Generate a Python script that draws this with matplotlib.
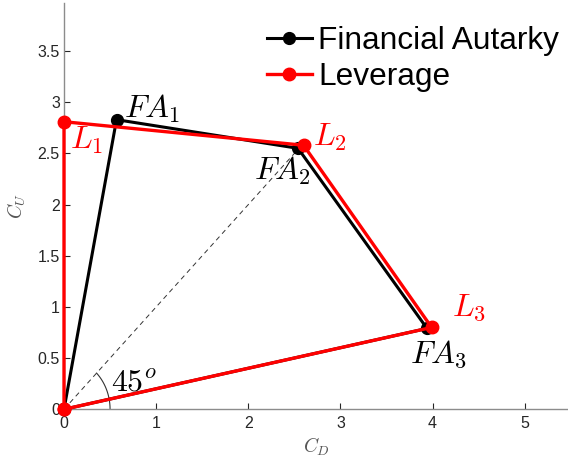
import numpy as np
import matplotlib
matplotlib.use("Agg")
import matplotlib.pyplot as plt

plt.rcParams['mathtext.fontset'] = 'cm'
plt.rcParams['font.family'] = ['Liberation Sans', 'DejaVu Sans']

# Vertices of the two consumption regions (C_D, C_U)
fa_x = [0.0, 0.57, 2.54, 3.94, 0.0]
fa_y = [0.0, 2.83, 2.55, 0.79, 0.0]
lev_x = [0.0, 0.0, 2.60, 3.99, 0.0]
lev_y = [0.0, 2.81, 2.58, 0.80, 0.0]

fa_labels = [r'$FA_1$', r'$FA_2$', r'$FA_3$']
fa_label_pos = [(0.65, 2.85), (2.06, 2.24), (3.75, 0.46)]
lev_labels = [r'$L_1$', r'$L_2$', r'$L_3$']
lev_label_pos = [(0.07, 2.55), (2.70, 2.58), (4.21, 0.92)]

xticks = [0, 1, 2, 3, 4, 5]
yticks = [0, 0.5, 1, 1.5, 2, 2.5, 3, 3.5]

fig = plt.figure(figsize=(5.68, 4.57), dpi=100)
ax = fig.add_axes([64 / 568, 1 - 409.3 / 457, 1 - 64 / 568, (409.3 - 3) / 457])

# 45-degree reference line and angle arc
ax.plot([0, lev_x[2]], [0, lev_x[2]], color='#333333', ls=(0, (5, 4)), lw=0.7, zorder=1)
theta = np.linspace(0, np.pi / 4, 50)
ax.plot(0.5 * np.cos(theta), 0.5 * np.sin(theta), color='#333333', lw=0.8, zorder=1)
ax.text(0.51, 0.18, r'$45^o$', fontsize=23, color='black')

ax.plot(fa_x, fa_y, color='black', lw=2.2, marker='o', ms=8.5,
        label='Financial Autarky', zorder=3, clip_on=False)
ax.plot(lev_x, lev_y, color='red', lw=2.4, marker='o', ms=9,
        label='Leverage', zorder=4, clip_on=False)

for t, (x, y) in zip(fa_labels, fa_label_pos):
    ax.text(x, y, t, fontsize=23, color='black', zorder=5)
for t, (x, y) in zip(lev_labels, lev_label_pos):
    ax.text(x, y, t, fontsize=23, color='red', zorder=5)

ax.set_xlim(0, 5.47)
ax.set_ylim(0, 3.97)
ax.set_xticks(xticks)
ax.set_yticks(yticks)
ax.set_xticklabels([f'{v:g}' for v in xticks])
ax.set_yticklabels([f'{v:g}' for v in yticks])
ax.tick_params(direction='in', length=4, width=0.8, colors='#262626',
               labelsize=11.5)
ax.tick_params(axis='y', pad=3)
ax.tick_params(axis='x', pad=5)
for s in ['top', 'right']:
    ax.spines[s].set_visible(False)
for s in ['left', 'bottom']:
    ax.spines[s].set_color('#8c8c8c')
    ax.spines[s].set_linewidth(1.0)

ax.set_xlabel(r'$C_D$', fontsize=14, color='#555555', labelpad=3)
ax.set_ylabel(r'$C_U$', fontsize=14, color='#555555', labelpad=7)

leg = ax.legend(loc='upper right', frameon=False, fontsize=22.8,
                handlelength=1.42, handletextpad=0.2, labelspacing=0.2,
                borderaxespad=0.2, bbox_to_anchor=(1.02, 0.99))

fig.savefig('out.png', dpi=100)
